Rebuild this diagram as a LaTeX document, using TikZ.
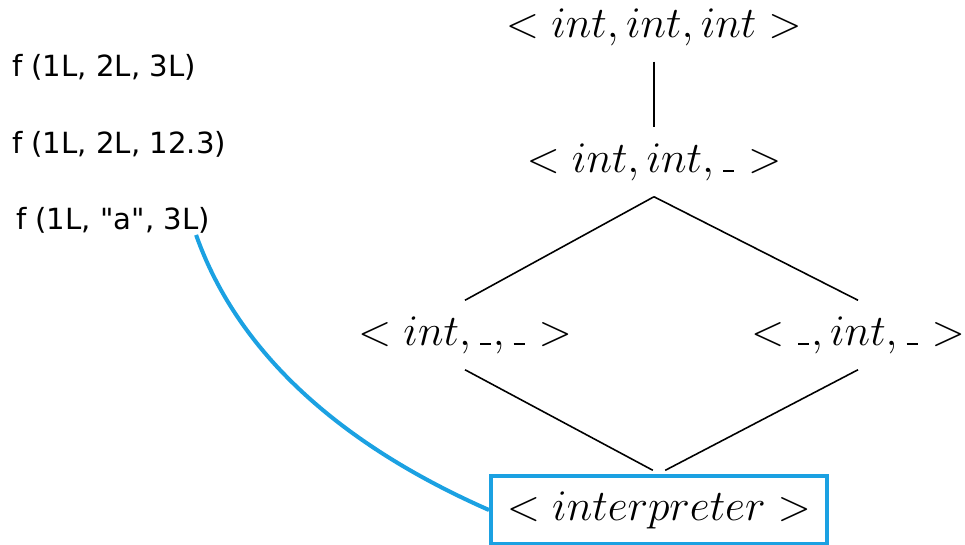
\documentclass[tikz,border=0pt]{standalone}
\usepackage{fontspec}
\newfontfamily\callfont{DejaVu Sans}
\usetikzlibrary{positioning}
\definecolor{linkblue}{RGB}{27,161,226}
\newcommand{\hole}{\mathord{\kern0.04em\rule{0.25em}{0.04em}\kern0.04em}}
\tikzset{lattice/.style={font=\fontsize{25}{30}\selectfont,inner sep=9pt},call/.style={font=\callfont\fontsize{16.6}{20}\selectfont,anchor=base west,inner sep=1pt},order/.style={line width=0.9pt,draw=black},link/.style={line width=2.3pt,draw=linkblue}}

\begin{document}
\begin{tikzpicture}[x=0.02cm,y=-0.02cm]
\useasboundingbox (0,0) rectangle (965,545);
\node[call] (call1) at (10,76) {f (1L, 2L, 3L)};
\node[call] (call2) at (10,153) {f (1L, 2L, 12.3)};
\node[call] (call3) at (14,229) {f (1L, "a", 3L)};
\node[lattice] (top) at (654,27) {$<int,int,int>$};
\node[lattice] (mid) at (654,162) {$<int,int,\hole>$};
\node[lattice] (left) at (465,335) {$<int,\hole,\hole>$};
\node[lattice] (right) at (858,335) {$<\hole,int,\hole>$};
\node[lattice,link,draw,minimum width=6.6cm,minimum height=1.22cm] (interp) at (659,510) {$<interpreter>$};
\draw[order] (top)--(mid);
\draw[order] (mid.south)--(left.north);
\draw[order] (mid.south)--(right.north);
\draw[order,shorten >=4pt] (left.south)--(interp.north);
\draw[order,shorten >=4pt] (right.south)--(interp.north);
% call site to its matching entry
\draw[link] ([xshift=-9pt]call3.south east) .. controls (235,345) and (330,440) .. (interp.west);
\end{tikzpicture}
\end{document}
